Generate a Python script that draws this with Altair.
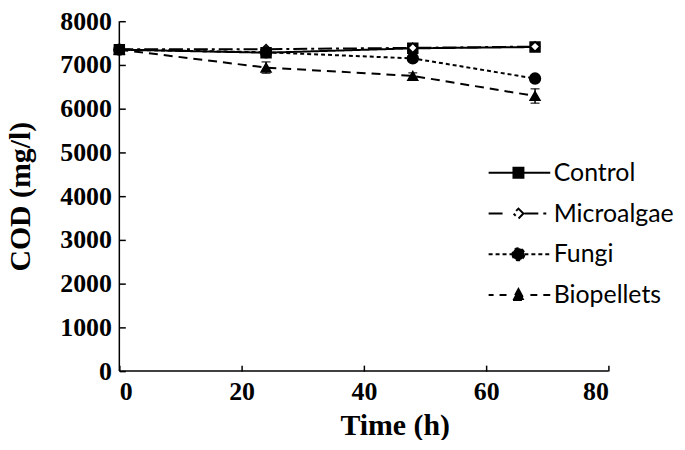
import altair as alt
import pandas as pd

series = ["Control", "Microalgae", "Fungi", "Biopellets"]
time_h = [0, 24, 48, 68]
control = [7350, 7280, 7380, 7410]
microalgae = [7360, 7360, 7390, 7420]
fungi = [7350, 7290, 7150, 6690]
biopellets = [7350, 6940, 6750, 6290]
control_err = [0, 40, 40, 40]
microalgae_err = [0, 30, 30, 30]
fungi_err = [0, 40, 50, 60]
biopellets_err = [0, 130, 70, 165]
x_ticks = [0, 20, 40, 60, 80]
y_ticks = [0, 1000, 2000, 3000, 4000, 5000, 6000, 7000, 8000]
axis_origin = [0]

vals = {"Control": (control, control_err), "Microalgae": (microalgae, microalgae_err),
        "Fungi": (fungi, fungi_err), "Biopellets": (biopellets, biopellets_err)}
rows = []
for s in series:
    v, e = vals[s]
    for t, y, er in zip(time_h, v, e):
        rows.append({"series": s, "time": t, "cod": y, "lo": y - er, "hi": y + er})
df = pd.DataFrame(rows)
origin_df = pd.DataFrame({"t0": axis_origin, "c0": axis_origin})

# legend symbol paths (style only): px relative to entry left, 6 px per unit
U = 6.0
def px(x):
    return f"{x / U - 1:.3f}"
def py(y):
    return f"{y / U:.3f}"
def seg(a, b):
    return f"M{px(a)},0L{px(b)},0"

legend_paths = [
    seg(0, 62) + f"M{px(25)},{py(-5)}L{px(35)},{py(-5)}L{px(35)},{py(5)}L{px(25)},{py(5)}Z",
    seg(0, 14) + seg(36, 50) + seg(55, 58)
    + f"M{px(30)},{py(-5)}L{px(35)},0L{px(30)},{py(5)}L{px(25)},0Z",
    seg(0, 4) + seg(7, 11) + seg(14, 18) + seg(21, 24) + seg(36, 40) + seg(43, 47) + seg(50, 54) + seg(57, 61)
    + f"M{px(24)},0A1,1 0 1,0 {px(36)},0A1,1 0 1,0 {px(24)},0Z",
    seg(0, 5) + seg(11, 18) + seg(42, 49) + seg(55, 62)
    + f"M{px(30)},{py(-6)}L{px(36)},{py(5)}L{px(24)},{py(5)}Z",
]

x_enc = alt.X("time:Q", scale=alt.Scale(domain=[0, 80], nice=False),
              axis=alt.Axis(values=x_ticks, title="Time (h)", format="d",
                            offset=-6, tickSize=6, tickWidth=1.5, tickColor="black",
                            domain=False, grid=False,
                            labelPadding=8, titlePadding=6, titleX=277))
y_enc = alt.Y("cod:Q", scale=alt.Scale(domain=[0, 8000], nice=False),
              axis=alt.Axis(values=y_ticks, title="COD (mg/l)", format="d",
                            offset=-6, tickSize=6, tickWidth=1.5, tickColor="black",
                            domain=False, grid=False,
                            labelPadding=8, titlePadding=24))

base = alt.Chart(df)

lines = base.mark_line(color="black", strokeWidth=2).encode(
    x=x_enc, y=y_enc,
    strokeDash=alt.StrokeDash("series:N", scale=alt.Scale(domain=series,
                              range=[[1, 0], [14, 4, 3, 4], [4, 3], [9, 6]]), legend=None),
)

x_domain_line = alt.Chart(origin_df).mark_rule(color="black", strokeWidth=1.5).encode(
    y=alt.Y("c0:Q"))
y_domain_line = alt.Chart(origin_df).mark_rule(color="black", strokeWidth=1.5).encode(
    x=alt.X("t0:Q"))

errs = base.mark_errorbar(ticks={"size": 9}, color="black", thickness=1.5).encode(
    x="time:Q", y=alt.Y("lo:Q", title="COD (mg/l)"), y2="hi:Q"
)

point_styles = {
    "Control": dict(shape="square", fill="black", stroke="black", size=100),
    "Microalgae": dict(shape="diamond", fill="white", stroke="black", size=90),
    "Fungi": dict(shape="circle", fill="black", stroke="black", size=120),
    "Biopellets": dict(shape="triangle-up", fill="black", stroke="black", size=100),
}
pts = []
for s in series:
    st = point_styles[s]
    pts.append(
        base.transform_filter(alt.datum.series == s)
        .mark_point(shape=st["shape"], fill=st["fill"], stroke=st["stroke"], size=st["size"],
                    strokeWidth=1.5, opacity=1, filled=False)
        .encode(x="time:Q", y="cod:Q")
    )

leg = alt.Legend(title=None, orient="none", legendX=365, legendY=140,
                 symbolSize=144, symbolStrokeWidth=2, symbolStrokeColor="black",
                 symbolOpacity=1,
                 labelOffset=47, labelFont="Lato", labelFontSize=25,
                 labelColor="black", rowPadding=15, padding=0)

legend_layer = base.mark_point(
    opacity=0, strokeWidth=2
).encode(
    x="time:Q", y="cod:Q",
    shape=alt.Shape("series:N", scale=alt.Scale(domain=series, range=legend_paths), legend=leg),
    fill=alt.Fill("series:N", scale=alt.Scale(domain=series, range=["black", "white", "black", "black"]),
                  legend=leg),
    stroke=alt.Stroke("series:N", scale=alt.Scale(domain=series, range=["black", "black", "black", "black"]),
                      legend=leg),
)

chart = alt.layer(legend_layer, lines, x_domain_line, y_domain_line, errs, *pts).properties(
    width=492, height=352, autosize="none",
    padding={"left": 112, "top": 12, "right": 69, "bottom": 68},
).configure_view(stroke=None).configure_axis(
    labelFont="Liberation Serif", labelFontWeight="bold", labelFontSize=26, labelColor="black",
    titleFont="Liberation Serif", titleFontWeight="bold", titleFontSize=30, titleColor="black",
)

chart.save("out.html", embed_options={"renderer": "svg", "actions": False})
